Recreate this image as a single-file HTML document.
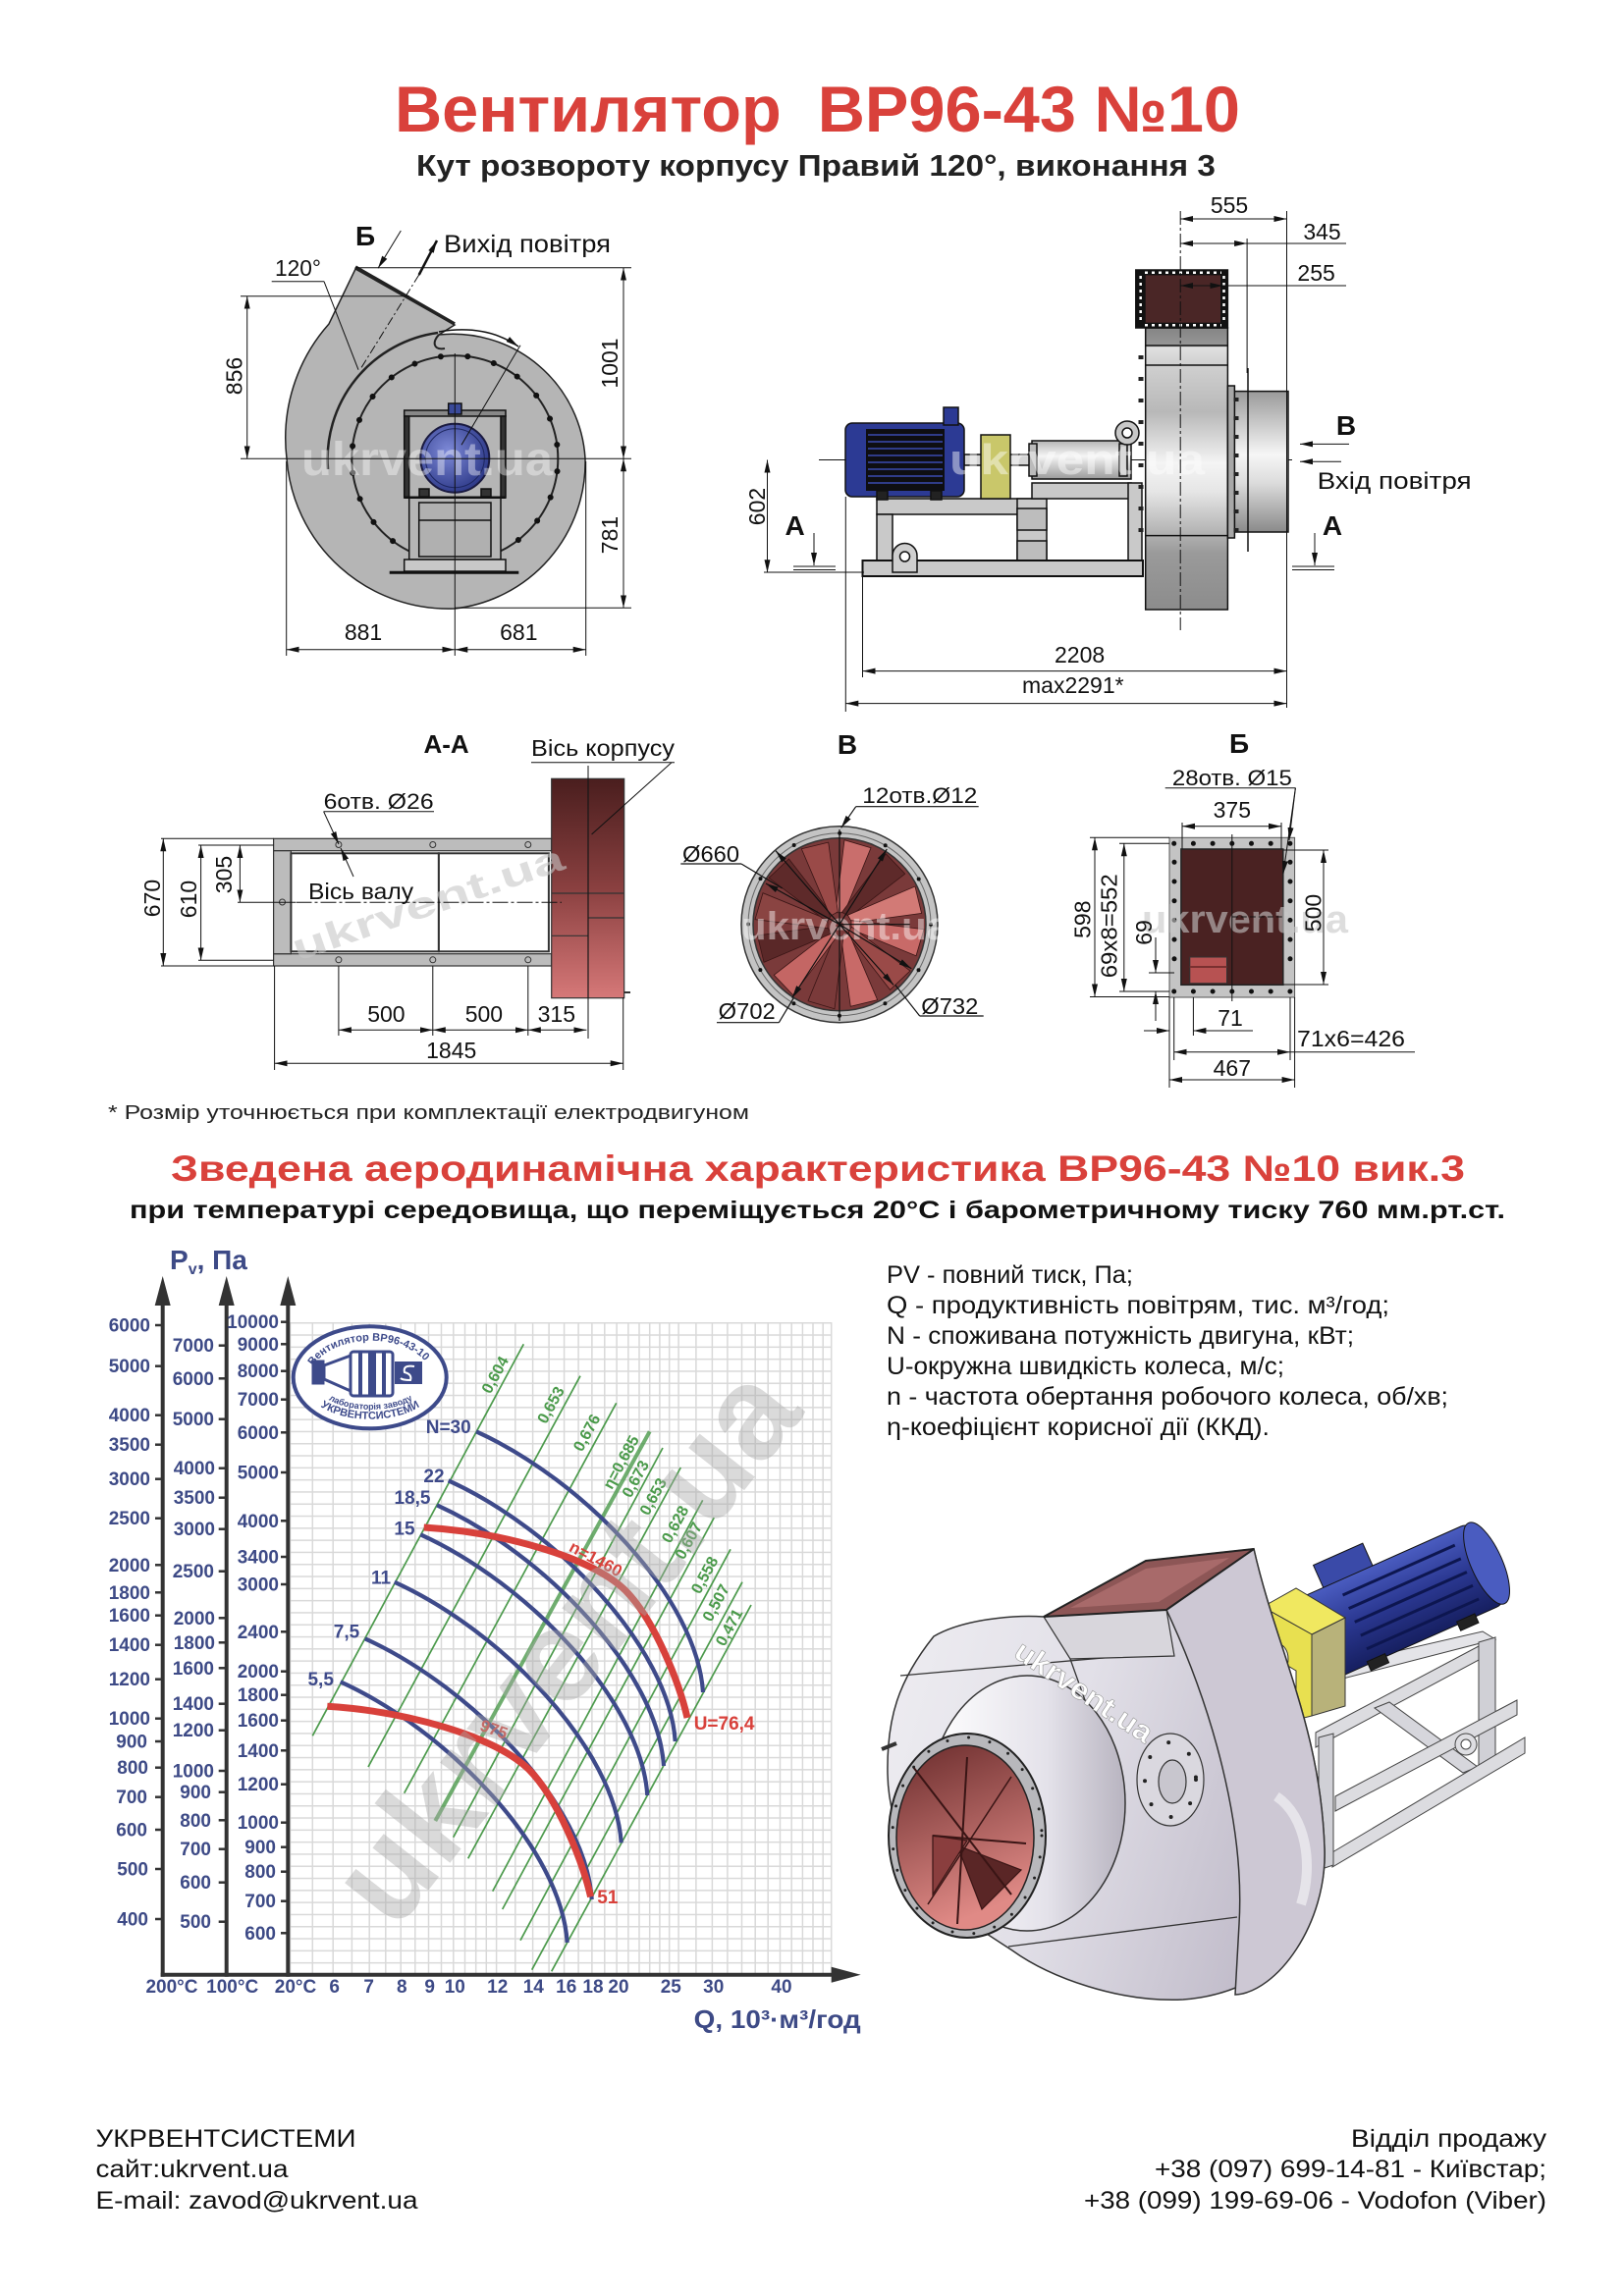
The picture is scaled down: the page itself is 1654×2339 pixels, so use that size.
<!DOCTYPE html>
<html><head><meta charset="utf-8">
<style>
html,body{margin:0;padding:0;background:#fff;}
svg{display:block;}
text{font-family:"Liberation Sans",Arial,sans-serif;}
</style></head><body>
<svg xmlns="http://www.w3.org/2000/svg" xmlns:xlink="http://www.w3.org/1999/xlink" width="1654" height="2339" viewBox="0 0 1654 2339">
<defs>
<marker id="ar" markerUnits="userSpaceOnUse" markerWidth="14" markerHeight="8" refX="13" refY="4" orient="auto-start-reverse"><path d="M0,1 L13,4 L0,7 z" fill="#111"/></marker>
<radialGradient id="mg" cx="0.4" cy="0.4" r="0.7"><stop offset="0" stop-color="#7e8ad8"/><stop offset="1" stop-color="#24307f"/></radialGradient>
<linearGradient id="sideCase" x1="0" y1="0" x2="0" y2="1">
<stop offset="0" stop-color="#858585"/><stop offset="0.06" stop-color="#959595"/><stop offset="0.07" stop-color="#e0e0e0"/><stop offset="0.13" stop-color="#d0d0d0"/><stop offset="0.3" stop-color="#b8b8b8"/><stop offset="0.48" stop-color="#f4f4f4"/><stop offset="0.58" stop-color="#e6e6e6"/><stop offset="0.8" stop-color="#9a9a9a"/><stop offset="1" stop-color="#8c8c8c"/></linearGradient>
<linearGradient id="inletG" x1="0" y1="0" x2="0" y2="1"><stop offset="0" stop-color="#9a9a9a"/><stop offset="0.45" stop-color="#f6f6f6"/><stop offset="0.65" stop-color="#dcdcdc"/><stop offset="1" stop-color="#8a8a8a"/></linearGradient>
<linearGradient id="cylH" x1="0" y1="0" x2="0" y2="1"><stop offset="0" stop-color="#b5b5b5"/><stop offset="0.4" stop-color="#f5f5f5"/><stop offset="1" stop-color="#9a9a9a"/></linearGradient>
<linearGradient id="brownG" x1="0" y1="0" x2="0" y2="1"><stop offset="0" stop-color="#4a1e1e"/><stop offset="0.5" stop-color="#8a4040"/><stop offset="1" stop-color="#d67878"/></linearGradient>
<linearGradient id="case3d" x1="0" y1="0" x2="1" y2="0.3"><stop offset="0" stop-color="#efeef2"/><stop offset="0.5" stop-color="#e2e0e8"/><stop offset="1" stop-color="#c2bdcb"/></linearGradient>
<linearGradient id="cyl3d" x1="0" y1="0" x2="1" y2="0"><stop offset="0" stop-color="#ffffff"/><stop offset="0.6" stop-color="#e4e2ea"/><stop offset="1" stop-color="#b8b4c0"/></linearGradient>
<linearGradient id="inner3d" x1="0" y1="0" x2="0.3" y2="1"><stop offset="0" stop-color="#6a2c2c"/><stop offset="1" stop-color="#e08a86"/></linearGradient>
<linearGradient id="motor3d" x1="0" y1="0" x2="0" y2="1"><stop offset="0" stop-color="#4a5cc0"/><stop offset="0.5" stop-color="#2a3790"/><stop offset="1" stop-color="#161f60"/></linearGradient>
<pattern id="hg" x="0" y="1347" width="20" height="12.3" patternUnits="userSpaceOnUse"><rect x="0" y="0" width="20" height="1.5" fill="#d9d9d9"/></pattern>
<path id="bl" d="M-4,-12 L5,-12 L32,-78 L5,-86 Z"/>
<path id="bc" d="M0,0 C110,50 225,170 231,265.7"/>
<path id="rc" d="M0,0 C80,5 170,30 205,64 C235,94 260.3,159 268.3,194"/>
</defs>

<!-- TITLE -->
<text x="402" y="134" font-size="66" font-weight="bold" fill="#d9413b" textLength="861" lengthAdjust="spacingAndGlyphs" style="white-space:pre">Вентилятор  ВР96-43 №10</text>
<text x="424" y="179" font-size="31" font-weight="bold" fill="#222" textLength="814" lengthAdjust="spacingAndGlyphs">Кут розвороту корпусу Правий 120°, виконання 3</text>

<!-- FRONT VIEW -->
<g stroke="#222" stroke-width="1.5">
<path d="M447,341 A135 135 0 0 1 596,467 A150 150 0 0 1 463,620 A165 165 0 0 1 292,467 A175 175 0 0 1 335,330 L362,274 L463,331 Z" fill="#b5b5b5"/>
<line x1="362" y1="272" x2="463" y2="330" stroke-width="3.5"/>
<path d="M334,478 A130 130 0 0 1 446,339" fill="none" stroke-width="2.5"/>
<path d="M447,341 C440,348 441,357 453,355" fill="none" stroke-width="2"/>
<circle cx="463.3" cy="467.3" r="105" fill="none" stroke-width="2"/>
</g>
<circle cx="463.3" cy="467.3" r="105" fill="none" stroke="#111" stroke-width="6" stroke-dasharray="0 27.49" stroke-linecap="round" transform="rotate(7 463.3 467.3)"/>
<g stroke="#111" stroke-width="1.5">
<rect x="416.7" y="506.7" width="93.3" height="63.3" fill="#b5b5b5"/>
<rect x="426.7" y="512" width="73.3" height="55" fill="#b0b0b0"/>
<line x1="426.7" y1="530" x2="500" y2="530"/>
<rect x="411.7" y="418" width="103.3" height="6" fill="#888"/>
<rect x="411.7" y="424" width="5" height="83" fill="#333"/>
<rect x="510" y="424" width="5" height="83" fill="#333"/>
<line x1="411.7" y1="506.7" x2="515" y2="506.7" stroke-width="2.5"/>
<rect x="411.7" y="570" width="103.3" height="12" fill="#c8c8c8"/>
<line x1="396.7" y1="583.3" x2="528.3" y2="583.3" stroke-width="3"/>
<rect x="456.7" y="411" width="13.3" height="11" fill="#3a4a9a"/>
<rect x="427" y="498" width="10" height="8" fill="#333"/>
<rect x="490" y="498" width="10" height="8" fill="#333"/>
<circle cx="463.3" cy="466.7" r="35" fill="url(#mg)" stroke="#1a1a40" stroke-width="2"/>
<circle cx="463.3" cy="466.7" r="30" fill="none" stroke="#1d2660" stroke-width="1"/>
</g>
<text x="435" y="484" font-size="48" font-weight="bold" fill="#fff" opacity="0.4" text-anchor="middle" textLength="256" lengthAdjust="spacingAndGlyphs">ukrvent.ua</text>
<g stroke="#111" stroke-width="1" fill="none">
<line x1="463.3" y1="360" x2="463.3" y2="668"/>
<line x1="245" y1="467.3" x2="643" y2="467.3"/>
<line x1="245" y1="301.7" x2="417" y2="301.7"/>
<line x1="361.7" y1="272.7" x2="643" y2="272.7"/>
<line x1="463.3" y1="619.3" x2="643" y2="619.3"/>
<line x1="291.7" y1="470" x2="291.7" y2="668"/>
<line x1="596.7" y1="470" x2="596.7" y2="668"/>
<line x1="251.7" y1="301.7" x2="251.7" y2="467.3" marker-start="url(#ar)" marker-end="url(#ar)"/>
<line x1="635" y1="272.7" x2="635" y2="467.3" marker-start="url(#ar)" marker-end="url(#ar)"/>
<line x1="635" y1="467.3" x2="635" y2="619.3" marker-start="url(#ar)" marker-end="url(#ar)"/>
<line x1="291.7" y1="661.7" x2="463.3" y2="661.7" marker-start="url(#ar)" marker-end="url(#ar)"/>
<line x1="463.3" y1="661.7" x2="596.7" y2="661.7" marker-start="url(#ar)" marker-end="url(#ar)"/>
<line x1="276.7" y1="286.7" x2="330" y2="286.7"/>
<line x1="330" y1="286.7" x2="365" y2="376.7"/>
<line x1="426.7" y1="280" x2="366.7" y2="376.7" stroke-dasharray="9 3 2 3"/>
<line x1="426.7" y1="280" x2="445" y2="245" stroke-width="2.5" marker-end="url(#ar)"/>
<line x1="408.3" y1="235" x2="385" y2="273.3" marker-end="url(#ar)"/>
<path d="M447,338 Q495,330 528,353" stroke-width="1.5" marker-end="url(#ar)"/>
<line x1="530" y1="351.7" x2="470" y2="453.3"/>
</g>
<g font-size="23" fill="#111">
<text x="370" y="652" text-anchor="middle">881</text>
<text x="528.3" y="652" text-anchor="middle">681</text>
<text x="280" y="281" textLength="47" lengthAdjust="spacingAndGlyphs">120°</text>
<text transform="translate(238.5,383) rotate(-90)" text-anchor="middle" dominant-baseline="central">856</text>
<text transform="translate(621,370) rotate(-90)" text-anchor="middle" dominant-baseline="central">1001</text>
<text transform="translate(621,545) rotate(-90)" text-anchor="middle" dominant-baseline="central">781</text>
<text x="452" y="257" font-size="25" textLength="170" lengthAdjust="spacingAndGlyphs">Вихід повітря</text>
<text x="372" y="250" font-size="28" font-weight="bold" text-anchor="middle">Б</text>
</g>

<!-- SIDE VIEW -->
<line x1="834" y1="468.5" x2="1316" y2="468.5" stroke="#111" stroke-width="1"/>
<g stroke="#111" stroke-width="1.5">
<rect x="893" y="508" width="163" height="16" fill="#c9c9c9"/>
<rect x="893" y="524" width="16" height="47" fill="#c9c9c9"/>
<rect x="1036" y="508" width="30" height="63" fill="#c9c9c9"/>
<rect x="1036" y="518" width="30" height="22" fill="#bdbdbd"/>
<rect x="1036" y="551" width="30" height="20" fill="#bdbdbd"/>
<rect x="1051" y="492" width="101" height="16" fill="#c9c9c9"/>
<rect x="1149" y="492" width="14" height="79" fill="#c9c9c9"/>
<rect x="878.5" y="571" width="285.5" height="16" fill="#c9c9c9" stroke-width="2"/>
<path d="M909,583 L909,566 A12.5 12.5 0 0 1 934,566 L934,583 Z" fill="#cfcfcf"/>
<circle cx="921.5" cy="567" r="5" fill="#fff"/>
<rect x="982" y="463" width="70" height="11" fill="#d6d6d6"/>
<rect x="861" y="431" width="121" height="75" rx="7" fill="#2c3a94"/>
<rect x="882" y="437" width="80" height="63" fill="#0e0e12" stroke="none"/>
</g>
<g stroke="#3a4ab0" stroke-width="1.5">
<line x1="884" y1="443" x2="960" y2="443"/><line x1="884" y1="450" x2="960" y2="450"/><line x1="884" y1="457" x2="960" y2="457"/><line x1="884" y1="464" x2="960" y2="464"/><line x1="884" y1="471" x2="960" y2="471"/><line x1="884" y1="478" x2="960" y2="478"/><line x1="884" y1="485" x2="960" y2="485"/><line x1="884" y1="492" x2="960" y2="492"/>
</g>
<g stroke="#111" stroke-width="1.5">
<rect x="961" y="415" width="15" height="18" fill="#2c3a94"/>
<rect x="893" y="500" width="11" height="9" fill="#222"/>
<rect x="948" y="500" width="11" height="9" fill="#222"/>
<rect x="999" y="443" width="30" height="65" fill="#c9c76a"/>
<rect x="1051" y="449" width="101" height="39" fill="url(#cylH)"/>
<rect x="1048" y="452" width="8" height="33" fill="#bbb"/>
<rect x="1140" y="452" width="8" height="33" fill="#bbb"/>
<circle cx="1148" cy="441" r="12" fill="#c8c8c8"/>
<circle cx="1148" cy="441" r="5" fill="#fff"/>
<rect x="1166.7" y="334" width="83.7" height="287" fill="url(#sideCase)"/>
<line x1="1166.7" y1="352" x2="1250.4" y2="352"/>
<line x1="1166.7" y1="372" x2="1250.4" y2="372"/>
<line x1="1166.7" y1="545.6" x2="1250.4" y2="545.6"/>
<rect x="1156.8" y="275" width="93.6" height="59" fill="#111"/>
<rect x="1166.7" y="280.4" width="76.3" height="48.3" fill="#4a2626" stroke="none"/>
<rect x="1250.4" y="398.6" width="61.6" height="143.4" fill="url(#inletG)"/>
<rect x="1250.4" y="393" width="7" height="155" fill="#a8a8a8"/>
</g>
<g stroke="#fff" stroke-width="2.5" stroke-dasharray="3 4">
<line x1="1161.7" y1="281" x2="1161.7" y2="330"/><line x1="1246.5" y1="281" x2="1246.5" y2="330"/>
<line x1="1166" y1="277.7" x2="1244" y2="277.7"/><line x1="1166" y1="331.3" x2="1244" y2="331.3"/>
</g>
<line x1="1162" y1="362" x2="1162" y2="560" stroke="#222" stroke-width="5" stroke-dasharray="4 18"/>
<line x1="1259" y1="405" x2="1259" y2="545" stroke="#222" stroke-width="5" stroke-dasharray="4 15"/>
<line x1="1271" y1="375" x2="1271" y2="562" stroke="#111" stroke-width="1.5"/>
<text x="1097" y="483" font-size="44" font-weight="bold" fill="#fff" opacity="0.45" text-anchor="middle" textLength="260" lengthAdjust="spacingAndGlyphs">ukrvent.ua</text>
<g stroke="#111" stroke-width="1" fill="none">
<line x1="1202.2" y1="215" x2="1202.2" y2="642" stroke-dasharray="14 3 3 3"/>
<line x1="1310.5" y1="215" x2="1310.5" y2="721"/>
<line x1="1270.1" y1="243" x2="1270.1" y2="380"/>
<line x1="1202.2" y1="223" x2="1310.5" y2="223" marker-start="url(#ar)" marker-end="url(#ar)"/>
<line x1="1202.2" y1="248" x2="1270.1" y2="248" marker-start="url(#ar)" marker-end="url(#ar)"/>
<line x1="1270.1" y1="248" x2="1371" y2="248"/>
<line x1="1202.2" y1="291" x2="1245.5" y2="291" marker-start="url(#ar)" marker-end="url(#ar)"/>
<line x1="1245.5" y1="291" x2="1371" y2="291"/>
<line x1="878.5" y1="587" x2="878.5" y2="690"/>
<line x1="861.3" y1="506" x2="861.3" y2="725"/>
<line x1="878.5" y1="683.6" x2="1310.5" y2="683.6" marker-start="url(#ar)" marker-end="url(#ar)"/>
<line x1="861.3" y1="716.6" x2="1310.5" y2="716.6" marker-start="url(#ar)" marker-end="url(#ar)"/>
<line x1="778" y1="583" x2="880" y2="583"/>
<line x1="781.5" y1="468.5" x2="781.5" y2="583.2" marker-start="url(#ar)" marker-end="url(#ar)"/>
<line x1="829" y1="543" x2="829" y2="576" marker-end="url(#ar)"/>
<line x1="808" y1="577" x2="851" y2="577"/><line x1="808" y1="580.5" x2="851" y2="580.5"/>
<line x1="1339" y1="543" x2="1339" y2="576" marker-end="url(#ar)"/>
<line x1="1316" y1="577" x2="1359" y2="577"/><line x1="1316" y1="580.5" x2="1359" y2="580.5"/>
<line x1="1374" y1="452.4" x2="1324" y2="452.4" marker-end="url(#ar)"/>
<line x1="1366" y1="470.3" x2="1324" y2="470.3" marker-end="url(#ar)"/>
</g>
<g font-size="23" fill="#111">
<text x="1252" y="217" text-anchor="middle">555</text>
<text x="1346.5" y="244" text-anchor="middle">345</text>
<text x="1340.6" y="286" text-anchor="middle">255</text>
<text x="1099.6" y="675" text-anchor="middle">2208</text>
<text x="1092.8" y="706" text-anchor="middle">max2291*</text>
<text transform="translate(771,516) rotate(-90)" text-anchor="middle" dominant-baseline="central">602</text>
<text x="1341.6" y="498" font-size="24" textLength="157" lengthAdjust="spacingAndGlyphs">Вхід повітря</text>
<text x="1371" y="443" font-size="28" font-weight="bold" text-anchor="middle">B</text>
<text x="809.6" y="545" font-size="28" font-weight="bold" text-anchor="middle">A</text>
<text x="1357" y="545" font-size="28" font-weight="bold" text-anchor="middle">A</text>
</g>

<!-- A-A SECTION -->
<g stroke="#333" stroke-width="1.2">
<rect x="278.6" y="854.3" width="283.1" height="12.4" fill="#bcbcbc"/>
<rect x="278.6" y="971.7" width="283.1" height="12.3" fill="#bcbcbc"/>
<rect x="278.6" y="866.7" width="17.8" height="105" fill="#bcbcbc"/>
<rect x="296.4" y="869.3" width="150.5" height="100" fill="#fff" stroke="#333" stroke-width="2"/>
<rect x="446.9" y="869.3" width="112" height="100" fill="#fff" stroke="#333" stroke-width="2"/>
<rect x="561.7" y="793.3" width="74" height="223.4" fill="url(#brownG)"/>
<line x1="599" y1="793.3" x2="599" y2="1016.7"/>
<line x1="561.7" y1="910" x2="635.7" y2="910"/>
<line x1="561.7" y1="953.3" x2="599" y2="953.3"/>
<line x1="599" y1="935" x2="635.7" y2="935"/>
<line x1="635.7" y1="1011" x2="642" y2="1011" stroke-width="2"/>
</g>
<g fill="none" stroke="#333" stroke-width="1">
<circle cx="344.9" cy="860.5" r="3"/><circle cx="440.8" cy="860.5" r="3"/><circle cx="537.8" cy="860.5" r="3"/>
<circle cx="344.9" cy="977.8" r="3"/><circle cx="440.8" cy="977.8" r="3"/><circle cx="537.8" cy="977.8" r="3"/>
<circle cx="287.5" cy="919" r="3"/>
</g>
<text transform="translate(440,932) rotate(-19)" font-size="38" font-weight="bold" fill="#c8c8c8" opacity="0.6" text-anchor="middle" textLength="290" lengthAdjust="spacingAndGlyphs">ukrvent.ua</text>
<g stroke="#111" stroke-width="1" fill="none">
<line x1="301.5" y1="919.3" x2="572" y2="919.3" stroke-dasharray="16 3 3 3"/>
<line x1="541" y1="776.7" x2="687" y2="776.7"/>
<line x1="684" y1="776.7" x2="602.6" y2="850"/>
<line x1="599" y1="780" x2="599" y2="1058"/>
<line x1="329.6" y1="826.7" x2="442" y2="826.7"/>
<line x1="329.6" y1="826.7" x2="345" y2="860" marker-end="url(#ar)"/>
<line x1="360" y1="893" x2="347" y2="864" marker-end="url(#ar)"/>
<line x1="164" y1="854.3" x2="278.6" y2="854.3"/>
<line x1="202" y1="861" x2="278.6" y2="861"/>
<line x1="202" y1="978.3" x2="278.6" y2="978.3"/>
<line x1="164" y1="984" x2="278.6" y2="984"/>
<line x1="242" y1="919.3" x2="301" y2="919.3"/>
<line x1="166.3" y1="854.3" x2="166.3" y2="984" marker-start="url(#ar)" marker-end="url(#ar)"/>
<line x1="204.6" y1="861" x2="204.6" y2="978.3" marker-start="url(#ar)" marker-end="url(#ar)"/>
<line x1="244.4" y1="861" x2="244.4" y2="919.3" marker-start="url(#ar)" marker-end="url(#ar)"/>
<line x1="344.9" y1="984" x2="344.9" y2="1055"/>
<line x1="440.8" y1="984" x2="440.8" y2="1055"/>
<line x1="537.8" y1="984" x2="537.8" y2="1055"/>
<line x1="279.6" y1="984" x2="279.6" y2="1090"/>
<line x1="634.7" y1="1016" x2="634.7" y2="1090"/>
<line x1="344.9" y1="1049.3" x2="440.8" y2="1049.3" marker-start="url(#ar)" marker-end="url(#ar)"/>
<line x1="440.8" y1="1049.3" x2="537.8" y2="1049.3" marker-start="url(#ar)" marker-end="url(#ar)"/>
<line x1="537.8" y1="1049.3" x2="597.4" y2="1049.3" marker-start="url(#ar)" marker-end="url(#ar)"/>
<line x1="279.6" y1="1083.3" x2="634.7" y2="1083.3" marker-start="url(#ar)" marker-end="url(#ar)"/>
</g>
<g font-size="23" fill="#111">
<text x="454.6" y="767" font-size="26" font-weight="bold" text-anchor="middle">A-A</text>
<text x="541" y="770" textLength="146" lengthAdjust="spacingAndGlyphs">Вісь корпусу</text>
<text x="329.6" y="824" font-size="22" textLength="112" lengthAdjust="spacingAndGlyphs">6отв. Ø26</text>
<text x="314" y="916" textLength="107" lengthAdjust="spacingAndGlyphs">Вісь валу</text>
<text transform="translate(155,915) rotate(-90)" text-anchor="middle" dominant-baseline="central">670</text>
<text transform="translate(192,916) rotate(-90)" text-anchor="middle" dominant-baseline="central">610</text>
<text transform="translate(228,891) rotate(-90)" text-anchor="middle" dominant-baseline="central">305</text>
<text x="393.4" y="1041" text-anchor="middle">500</text>
<text x="492.9" y="1041" text-anchor="middle">500</text>
<text x="566.8" y="1041" text-anchor="middle">315</text>
<text x="459.7" y="1078" text-anchor="middle">1845</text>
</g>

<!-- B VIEW -->
<circle cx="855" cy="941.7" r="100" fill="#c4c4c4" stroke="#333" stroke-width="1.5"/>
<circle cx="855" cy="941.7" r="93" fill="none" stroke="#666" stroke-width="1"/>
<circle cx="855" cy="941.7" r="88" fill="#7a3a3a" stroke="#333" stroke-width="1.5"/>
<g transform="translate(855,941.7)" stroke="#3a1515" stroke-width="0.8">
<use xlink:href="#bl" fill="#c96e6c" transform="rotate(0)"/>
<use xlink:href="#bl" fill="#5e2a2a" transform="rotate(30)"/>
<use xlink:href="#bl" fill="#d27a76" transform="rotate(60)"/>
<use xlink:href="#bl" fill="#c86a68" transform="rotate(90)"/>
<use xlink:href="#bl" fill="#9a4a48" transform="rotate(120)"/>
<use xlink:href="#bl" fill="#c86a68" transform="rotate(150)"/>
<use xlink:href="#bl" fill="#7a3a3a" transform="rotate(180)"/>
<use xlink:href="#bl" fill="#c46664" transform="rotate(210)"/>
<use xlink:href="#bl" fill="#5a2828" transform="rotate(240)"/>
<use xlink:href="#bl" fill="#8a4442" transform="rotate(270)"/>
<use xlink:href="#bl" fill="#5e2a2a" transform="rotate(300)"/>
<use xlink:href="#bl" fill="#9a4a48" transform="rotate(330)"/>
</g>
<circle cx="855" cy="941.7" r="93" fill="none" stroke="#111" stroke-width="4" stroke-dasharray="0 48.7" stroke-linecap="round"/>
<text x="861" y="957" font-size="40" font-weight="bold" fill="#fff" opacity="0.45" text-anchor="middle" textLength="212" lengthAdjust="spacingAndGlyphs">ukrvent.ua</text>
<g stroke="#111" stroke-width="1.2" fill="none">
<line x1="855" y1="941.7" x2="790" y2="866.7" marker-end="url(#ar)"/>
<line x1="855" y1="941.7" x2="903.3" y2="865" marker-end="url(#ar)"/>
<line x1="855" y1="941.7" x2="780" y2="900" marker-end="url(#ar)"/>
<line x1="855" y1="941.7" x2="928.3" y2="986.7" marker-end="url(#ar)"/>
<line x1="855" y1="941.7" x2="910" y2="1003.3" marker-end="url(#ar)"/>
<line x1="855" y1="941.7" x2="806.7" y2="1016.7" marker-end="url(#ar)"/>
<line x1="855" y1="941.7" x2="926.7" y2="941.7"/>
<line x1="855" y1="845" x2="855" y2="1040"/>
<line x1="871.7" y1="821.7" x2="996.7" y2="821.7"/>
<line x1="871.7" y1="821.7" x2="856.7" y2="843.3" marker-end="url(#ar)"/>
<line x1="693.3" y1="880" x2="755" y2="880"/>
<line x1="755" y1="880" x2="796.7" y2="905"/>
<line x1="730" y1="1041.7" x2="793.3" y2="1041.7"/>
<line x1="793.3" y1="1041.7" x2="808.3" y2="1016.7"/>
<line x1="936.7" y1="1035" x2="1001.7" y2="1035"/>
<line x1="936.7" y1="1035" x2="911.7" y2="1003.3"/>
</g>
<g font-size="23" fill="#111">
<text x="863" y="768" font-size="28" font-weight="bold" text-anchor="middle">B</text>
<text x="878.3" y="818" font-size="22" textLength="117" lengthAdjust="spacingAndGlyphs">12отв.Ø12</text>
<text x="695" y="878" textLength="58" lengthAdjust="spacingAndGlyphs">Ø660</text>
<text x="731.7" y="1038" textLength="58" lengthAdjust="spacingAndGlyphs">Ø702</text>
<text x="938.3" y="1033" textLength="58" lengthAdjust="spacingAndGlyphs">Ø732</text>
</g>

<!-- Б VIEW -->
<rect x="1191" y="853.3" width="127.6" height="162.7" fill="#c4c4c4" stroke="#555" stroke-width="1"/>
<rect x="1202.9" y="865" width="103.9" height="138.3" fill="#4a2222" stroke="#222" stroke-width="1.5"/>
<rect x="1211.8" y="975" width="37.7" height="26.7" fill="#b75252" stroke="#333" stroke-width="1"/>
<line x1="1211.8" y1="985" x2="1249.5" y2="985" stroke="#7a3030" stroke-width="2"/>
<g stroke="#111" stroke-width="5" stroke-dasharray="0 19.7" stroke-linecap="round" fill="none">
<line x1="1195.7" y1="859.3" x2="1316" y2="859.3"/>
<line x1="1195.7" y1="1010" x2="1316" y2="1010"/>
<line x1="1196" y1="878.3" x2="1196" y2="995"/>
<line x1="1314" y1="878.3" x2="1314" y2="995"/>
</g>
<text x="1268" y="950" font-size="40" font-weight="bold" fill="#c8c8c8" opacity="0.6" text-anchor="middle" textLength="210" lengthAdjust="spacingAndGlyphs">ukrvent.ua</text>
<g stroke="#111" stroke-width="1" fill="none">
<line x1="1254.8" y1="850" x2="1254.8" y2="1020"/>
<line x1="1254.8" y1="934" x2="1306" y2="934" stroke-dasharray="6 3"/>
<line x1="1186.7" y1="802.7" x2="1319.4" y2="802.7"/>
<line x1="1319.4" y1="802.7" x2="1313" y2="856" marker-end="url(#ar)"/>
<line x1="1319.4" y1="802.7" x2="1307" y2="890" marker-end="url(#ar)"/>
<line x1="1204" y1="838" x2="1204" y2="865"/>
<line x1="1305" y1="838" x2="1305" y2="865"/>
<line x1="1204" y1="841.7" x2="1305" y2="841.7" marker-start="url(#ar)" marker-end="url(#ar)"/>
<line x1="1110" y1="853.3" x2="1191" y2="853.3"/>
<line x1="1140" y1="859.3" x2="1191" y2="859.3"/>
<line x1="1140" y1="1010" x2="1191" y2="1010"/>
<line x1="1110" y1="1015.5" x2="1191" y2="1015.5"/>
<line x1="1170" y1="991" x2="1196" y2="991"/>
<line x1="1115" y1="853.3" x2="1115" y2="1015.5" marker-start="url(#ar)" marker-end="url(#ar)"/>
<line x1="1144.8" y1="859.3" x2="1144.8" y2="1010" marker-start="url(#ar)" marker-end="url(#ar)"/>
<line x1="1177" y1="955" x2="1177" y2="991" marker-end="url(#ar)"/>
<line x1="1177" y1="1040" x2="1177" y2="1010" marker-end="url(#ar)"/>
<line x1="1307" y1="866" x2="1353" y2="866"/>
<line x1="1307" y1="1003" x2="1353" y2="1003"/>
<line x1="1348" y1="866" x2="1348" y2="1003" marker-start="url(#ar)" marker-end="url(#ar)"/>
<line x1="1191" y1="1016" x2="1191" y2="1108"/>
<line x1="1195.7" y1="1016" x2="1195.7" y2="1080"/>
<line x1="1215.4" y1="1016" x2="1215.4" y2="1055"/>
<line x1="1314" y1="1016" x2="1314" y2="1080"/>
<line x1="1318.6" y1="1016" x2="1318.6" y2="1108"/>
<line x1="1165" y1="1050" x2="1191" y2="1050" marker-end="url(#ar)"/>
<line x1="1276" y1="1050" x2="1215.4" y2="1050" marker-end="url(#ar)"/>
<line x1="1195.7" y1="1071.7" x2="1314" y2="1071.7" marker-start="url(#ar)" marker-end="url(#ar)"/>
<line x1="1314" y1="1071.7" x2="1441" y2="1071.7"/>
<line x1="1191" y1="1100" x2="1318.6" y2="1100" marker-start="url(#ar)" marker-end="url(#ar)"/>
</g>
<g font-size="23" fill="#111">
<text x="1262" y="767" font-size="28" font-weight="bold" text-anchor="middle">Б</text>
<text x="1193.9" y="800" font-size="22" textLength="122" lengthAdjust="spacingAndGlyphs">28отв. Ø15</text>
<text x="1254.8" y="833" text-anchor="middle">375</text>
<text transform="translate(1102.5,936.7) rotate(-90)" text-anchor="middle" dominant-baseline="central">598</text>
<text transform="translate(1129.4,943.3) rotate(-90)" text-anchor="middle" dominant-baseline="central" textLength="106" lengthAdjust="spacingAndGlyphs">69x8=552</text>
<text transform="translate(1165,950) rotate(-90)" text-anchor="middle" dominant-baseline="central">69</text>
<text transform="translate(1337.3,930) rotate(-90)" text-anchor="middle" dominant-baseline="central">500</text>
<text x="1253" y="1045" text-anchor="middle">71</text>
<text x="1321" y="1066" textLength="110" lengthAdjust="spacingAndGlyphs">71x6=426</text>
<text x="1254.8" y="1096" text-anchor="middle">467</text>
</g>

<!-- FOOTNOTE & SECTION HEADINGS -->
<text x="110" y="1140" font-size="20" fill="#222" textLength="653" lengthAdjust="spacingAndGlyphs">* Розмір уточнюється при комплектації електродвигуном</text>
<text x="174" y="1203" font-size="37" font-weight="bold" fill="#d9413b" textLength="1318" lengthAdjust="spacingAndGlyphs">Зведена аеродинамічна характеристика ВР96-43 №10 вик.3</text>
<text x="132" y="1241" font-size="25" font-weight="bold" fill="#111" textLength="1401" lengthAdjust="spacingAndGlyphs">при температурі середовища, що переміщується 20°С і барометричному тиску 760 мм.рт.ст.</text>

<!-- CHART GRID -->
<rect x="293" y="1347" width="553.7" height="664" fill="url(#hg)"/>
<g stroke="#d9d9d9" stroke-width="1.5">
<line x1="295.5" y1="1347" x2="295.5" y2="2011"/><line x1="318.3" y1="1347" x2="318.3" y2="2011"/><line x1="339.2" y1="1347" x2="339.2" y2="2011"/><line x1="358.4" y1="1347" x2="358.4" y2="2011"/><line x1="376.2" y1="1347" x2="376.2" y2="2011"/><line x1="392.8" y1="1347" x2="392.8" y2="2011"/><line x1="408.2" y1="1347" x2="408.2" y2="2011"/><line x1="422.8" y1="1347" x2="422.8" y2="2011"/><line x1="436.5" y1="1347" x2="436.5" y2="2011"/><line x1="449.5" y1="1347" x2="449.5" y2="2011"/><line x1="461.8" y1="1347" x2="461.8" y2="2011"/><line x1="473.5" y1="1347" x2="473.5" y2="2011"/><line x1="484.7" y1="1347" x2="484.7" y2="2011"/><line x1="495.3" y1="1347" x2="495.3" y2="2011"/><line x1="505.6" y1="1347" x2="505.6" y2="2011"/><line x1="524.8" y1="1347" x2="524.8" y2="2011"/><line x1="542.6" y1="1347" x2="542.6" y2="2011"/><line x1="559.1" y1="1347" x2="559.1" y2="2011"/><line x1="574.6" y1="1347" x2="574.6" y2="2011"/><line x1="589.1" y1="1347" x2="589.1" y2="2011"/><line x1="602.9" y1="1347" x2="602.9" y2="2011"/><line x1="615.8" y1="1347" x2="615.8" y2="2011"/><line x1="628.1" y1="1347" x2="628.1" y2="2011"/><line x1="639.9" y1="1347" x2="639.9" y2="2011"/><line x1="651" y1="1347" x2="651" y2="2011"/><line x1="661.7" y1="1347" x2="661.7" y2="2011"/><line x1="671.9" y1="1347" x2="671.9" y2="2011"/><line x1="681.7" y1="1347" x2="681.7" y2="2011"/><line x1="691.1" y1="1347" x2="691.1" y2="2011"/><line x1="708.9" y1="1347" x2="708.9" y2="2011"/><line x1="725.4" y1="1347" x2="725.4" y2="2011"/><line x1="740.9" y1="1347" x2="740.9" y2="2011"/><line x1="755.5" y1="1347" x2="755.5" y2="2011"/><line x1="769.2" y1="1347" x2="769.2" y2="2011"/><line x1="782.2" y1="1347" x2="782.2" y2="2011"/><line x1="794.5" y1="1347" x2="794.5" y2="2011"/><line x1="806.2" y1="1347" x2="806.2" y2="2011"/><line x1="817.4" y1="1347" x2="817.4" y2="2011"/><line x1="828" y1="1347" x2="828" y2="2011"/><line x1="838.2" y1="1347" x2="838.2" y2="2011"/><line x1="846.7" y1="1347" x2="846.7" y2="2011"/>
</g>

<!-- GREEN EFFICIENCY LINES -->
<g stroke="#4c9a4c" stroke-width="1.7">
<line x1="533.3" y1="1369.3" x2="318.3" y2="1768.3"/>
<line x1="591" y1="1401.7" x2="375" y2="1800"/>
<line x1="627.7" y1="1429.3" x2="411.7" y2="1826.7"/>
<line x1="661.7" y1="1458.3" x2="443.3" y2="1855" stroke-width="4" opacity="0.8"/>
<line x1="675" y1="1475" x2="461.7" y2="1871.7"/>
<line x1="693.3" y1="1495" x2="476.7" y2="1893.3"/>
<line x1="715.7" y1="1528.3" x2="501.7" y2="1926.7"/>
<line x1="727.3" y1="1546" x2="511.7" y2="1945"/>
<line x1="744" y1="1578.3" x2="530" y2="1976.7"/>
<line x1="756" y1="1611.7" x2="541.7" y2="2006.7"/>
<line x1="765" y1="1635" x2="561.7" y2="2008.3"/>
</g>
<g font-size="16" font-weight="bold" fill="#4a9a4a" text-anchor="middle" dominant-baseline="central">
<text transform="translate(505,1401) rotate(-61.5)">0,604</text>
<text transform="translate(561.7,1431.7) rotate(-61.5)">0,653</text>
<text transform="translate(598.3,1460) rotate(-61.5)">0,676</text>
<text transform="translate(633.3,1490) rotate(-61.5)">η=0,685</text>
<text transform="translate(648,1507) rotate(-61.5)">0,673</text>
<text transform="translate(666,1525) rotate(-61.5)">0,653</text>
<text transform="translate(688.3,1553.3) rotate(-61.5)">0,628</text>
<text transform="translate(702,1570) rotate(-61.5)">0,607</text>
<text transform="translate(718.3,1605) rotate(-61.5)">0,558</text>
<text transform="translate(730,1633.3) rotate(-61.5)">0,507</text>
<text transform="translate(743.3,1658.3) rotate(-61.5)">0,471</text>
</g>

<!-- BLUE POWER CURVES -->
<g fill="none" stroke="#3e4a8a" stroke-width="4.2">
<use xlink:href="#bc" transform="translate(485,1458.3)"/>
<use xlink:href="#bc" transform="translate(456.7,1508.3)"/>
<use xlink:href="#bc" transform="translate(445,1533.3)"/>
<use xlink:href="#bc" transform="translate(428.3,1563.3)"/>
<use xlink:href="#bc" transform="translate(401.7,1611.7)"/>
<use xlink:href="#bc" transform="translate(371.7,1669.3)"/>
<use xlink:href="#bc" transform="translate(346.7,1713.3)"/>
</g>
<!-- RED SPEED CURVES -->
<g fill="none" stroke="#d8413b" stroke-width="7">
<use xlink:href="#rc" transform="translate(431.7,1556)"/>
<use xlink:href="#rc" transform="translate(333.3,1738.3)"/>
</g>
<g font-size="19" font-weight="bold" fill="#3e4a8a" text-anchor="middle">
<text x="456.7" y="1460">N=30</text>
<text x="442" y="1510">22</text>
<text x="420" y="1532">18,5</text>
<text x="412" y="1563.5">15</text>
<text x="388" y="1613.5">11</text>
<text x="353" y="1668.5">7,5</text>
<text x="326.7" y="1717">5,5</text>
</g>
<g font-size="17" font-weight="bold" fill="#d8413b">
<text transform="translate(606.7,1588.3) rotate(28)" text-anchor="middle" dominant-baseline="central">n=1460</text>
<text transform="translate(503,1762) rotate(20)" text-anchor="middle" dominant-baseline="central">975</text>
<text x="608.3" y="1939" font-size="19">51</text>
<text x="706.7" y="1762" font-size="19">U=76,4</text>
</g>

<!-- LOGO -->
<ellipse cx="376.7" cy="1403.3" rx="78" ry="52" fill="#fff" stroke="#3d4a8a" stroke-width="4"/>
<path id="lt" d="M314,1404 A64 42 0 0 1 440,1398" fill="none"/>
<path id="lb1" d="M325,1416 A54 26 0 0 0 430,1416" fill="none"/>
<path id="lb2" d="M312,1416 A66 36 0 0 0 442,1416" fill="none"/>
<text font-size="11" font-weight="bold" fill="#3d4a8a"><textPath xlink:href="#lt" startOffset="50%" text-anchor="middle">Вентилятор ВР96-43-10</textPath></text>
<text font-size="9" font-weight="bold" fill="#3d4a8a"><textPath xlink:href="#lb1" startOffset="50%" text-anchor="middle">лабораторія заводу</textPath></text>
<text font-size="11" font-weight="bold" fill="#3d4a8a"><textPath xlink:href="#lb2" startOffset="50%" text-anchor="middle">УКРВЕНТСИСТЕМИ</textPath></text>
<g fill="#3d4a8a" stroke="#3d4a8a">
<rect x="318" y="1386" width="12" height="24"/>
<path d="M330,1391 L357,1381 L357,1417 L330,1405 Z" fill="#fff" stroke-width="3"/>
<rect x="357" y="1377" width="43" height="45" rx="3" fill="#fff" stroke-width="3"/>
<rect x="365" y="1377" width="4" height="45" stroke="none"/>
<rect x="375" y="1377" width="8" height="45" stroke="none"/>
<rect x="389" y="1377" width="4" height="45" stroke="none"/>
<rect x="402" y="1387" width="28" height="23" stroke="none"/>
<path d="M422,1392 Q410,1390 412,1398 Q420,1400 418,1406 Q410,1406 408,1404" fill="none" stroke="#fff" stroke-width="2"/>
</g>

<!-- AXES -->
<g stroke="#333" stroke-width="4" fill="none">
<line x1="165.7" y1="1325" x2="165.7" y2="2013.7"/>
<line x1="230.7" y1="1325" x2="230.7" y2="2013.7"/>
<line x1="293.3" y1="1325" x2="293.3" y2="2013.7"/>
<line x1="163.7" y1="2011.7" x2="850" y2="2011.7"/>
</g>
<g fill="#333">
<path d="M165.7,1300 L157.7,1330 L173.7,1330 Z"/>
<path d="M230.7,1300 L222.7,1330 L238.7,1330 Z"/>
<path d="M293.3,1300 L285.3,1330 L301.3,1330 Z"/>
<path d="M876.7,2011.7 L846.7,2003.7 L846.7,2019.7 Z"/>
</g>
<g stroke="#333" stroke-width="2.5">
<line x1="158" y1="1350" x2="166" y2="1350"/><line x1="158" y1="1391.7" x2="166" y2="1391.7"/><line x1="158" y1="1441.7" x2="166" y2="1441.7"/><line x1="158" y1="1471.7" x2="166" y2="1471.7"/><line x1="158" y1="1506.7" x2="166" y2="1506.7"/><line x1="158" y1="1546.7" x2="166" y2="1546.7"/><line x1="158" y1="1594.3" x2="166" y2="1594.3"/><line x1="158" y1="1622.3" x2="166" y2="1622.3"/><line x1="158" y1="1645.7" x2="166" y2="1645.7"/><line x1="158" y1="1675.7" x2="166" y2="1675.7"/><line x1="158" y1="1710.7" x2="166" y2="1710.7"/><line x1="158" y1="1750.7" x2="166" y2="1750.7"/><line x1="158" y1="1774" x2="166" y2="1774"/><line x1="158" y1="1800.7" x2="166" y2="1800.7"/><line x1="158" y1="1830.7" x2="166" y2="1830.7"/><line x1="158" y1="1864" x2="166" y2="1864"/><line x1="158" y1="1904" x2="166" y2="1904"/><line x1="158" y1="1955" x2="166" y2="1955"/>
<line x1="222.7" y1="1370.7" x2="231" y2="1370.7"/><line x1="222.7" y1="1404.3" x2="231" y2="1404.3"/><line x1="222.7" y1="1445.7" x2="231" y2="1445.7"/><line x1="222.7" y1="1495.7" x2="231" y2="1495.7"/><line x1="222.7" y1="1525.7" x2="231" y2="1525.7"/><line x1="222.7" y1="1557.7" x2="231" y2="1557.7"/><line x1="222.7" y1="1600.7" x2="231" y2="1600.7"/><line x1="222.7" y1="1648.3" x2="231" y2="1648.3"/><line x1="222.7" y1="1673.3" x2="231" y2="1673.3"/><line x1="222.7" y1="1699.3" x2="231" y2="1699.3"/><line x1="222.7" y1="1735.7" x2="231" y2="1735.7"/><line x1="222.7" y1="1762.7" x2="231" y2="1762.7"/><line x1="222.7" y1="1804" x2="231" y2="1804"/><line x1="222.7" y1="1825.7" x2="231" y2="1825.7"/><line x1="222.7" y1="1854.3" x2="231" y2="1854.3"/><line x1="222.7" y1="1883.7" x2="231" y2="1883.7"/><line x1="222.7" y1="1917.7" x2="231" y2="1917.7"/><line x1="222.7" y1="1957.7" x2="231" y2="1957.7"/>
<line x1="286" y1="1346.7" x2="294" y2="1346.7"/><line x1="286" y1="1369.3" x2="294" y2="1369.3"/><line x1="286" y1="1396.7" x2="294" y2="1396.7"/><line x1="286" y1="1425.7" x2="294" y2="1425.7"/><line x1="286" y1="1459.3" x2="294" y2="1459.3"/><line x1="286" y1="1500" x2="294" y2="1500"/><line x1="286" y1="1549.3" x2="294" y2="1549.3"/><line x1="286" y1="1586" x2="294" y2="1586"/><line x1="286" y1="1614" x2="294" y2="1614"/><line x1="286" y1="1662.3" x2="294" y2="1662.3"/><line x1="286" y1="1702.7" x2="294" y2="1702.7"/><line x1="286" y1="1726.7" x2="294" y2="1726.7"/><line x1="286" y1="1752.7" x2="294" y2="1752.7"/><line x1="286" y1="1783.3" x2="294" y2="1783.3"/><line x1="286" y1="1817.7" x2="294" y2="1817.7"/><line x1="286" y1="1856.7" x2="294" y2="1856.7"/><line x1="286" y1="1881.7" x2="294" y2="1881.7"/><line x1="286" y1="1906.7" x2="294" y2="1906.7"/><line x1="286" y1="1936.7" x2="294" y2="1936.7"/><line x1="286" y1="1969.3" x2="294" y2="1969.3"/>
</g>
<g font-size="19" font-weight="bold" fill="#3d4a86" text-anchor="end">
<text x="153" y="1356.5">6000</text><text x="153" y="1398.2">5000</text><text x="153" y="1448.2">4000</text><text x="153" y="1478.2">3500</text><text x="153" y="1513.2">3000</text><text x="153" y="1553.2">2500</text><text x="153" y="1600.8">2000</text><text x="153" y="1628.8">1800</text><text x="153" y="1652.2">1600</text><text x="153" y="1682.2">1400</text><text x="153" y="1717.2">1200</text><text x="153" y="1757.2">1000</text><text x="150" y="1780.5">900</text><text x="151" y="1807.2">800</text><text x="150" y="1837.2">700</text><text x="150" y="1870.5">600</text><text x="151" y="1910.5">500</text><text x="151" y="1961.5">400</text>
<text x="218" y="1377.2">7000</text><text x="218" y="1410.8">6000</text><text x="218" y="1452.2">5000</text><text x="219" y="1502.2">4000</text><text x="219" y="1532.2">3500</text><text x="219" y="1564.2">3000</text><text x="218" y="1607.2">2500</text><text x="219" y="1654.8">2000</text><text x="219" y="1679.8">1800</text><text x="218" y="1705.8">1600</text><text x="218" y="1742.2">1400</text><text x="218" y="1769.2">1200</text><text x="218" y="1810.5">1000</text><text x="215" y="1832.2">900</text><text x="215" y="1860.8">800</text><text x="215" y="1890.2">700</text><text x="215" y="1924.2">600</text><text x="215" y="1964.2">500</text>
<text x="284" y="1353.2">10000</text><text x="284" y="1375.8">9000</text><text x="284" y="1403.2">8000</text><text x="284" y="1432.2">7000</text><text x="284" y="1465.8">6000</text><text x="284" y="1506.5">5000</text><text x="284" y="1555.8">4000</text><text x="284" y="1592.5">3400</text><text x="284" y="1620.5">3000</text><text x="284" y="1668.8">2400</text><text x="284" y="1709.2">2000</text><text x="284" y="1733.2">1800</text><text x="284" y="1759.2">1600</text><text x="284" y="1789.8">1400</text><text x="284" y="1824.2">1200</text><text x="284" y="1863.2">1000</text><text x="281" y="1888.2">900</text><text x="281" y="1913.2">800</text><text x="281" y="1943.2">700</text><text x="281" y="1975.8">600</text>
</g>
<g font-size="19" font-weight="bold" fill="#3d4a86" text-anchor="middle">
<text x="175" y="2030">200°C</text><text x="236.7" y="2030">100°C</text><text x="301" y="2030">20°C</text>
<text x="340.7" y="2030">6</text><text x="375.7" y="2030">7</text><text x="409.3" y="2030">8</text><text x="437.7" y="2030">9</text><text x="463.3" y="2030">10</text>
<text x="506.7" y="2030">12</text><text x="543.3" y="2030">14</text><text x="576.7" y="2030">16</text><text x="604" y="2030">18</text><text x="630" y="2030">20</text>
<text x="683.3" y="2030">25</text><text x="726.7" y="2030">30</text><text x="796" y="2030">40</text>
</g>
<text x="173" y="1293" font-size="28" font-weight="bold" fill="#3d4a86">P<tspan font-size="16" dy="5">v</tspan><tspan dy="-5">, Па</tspan></text>
<text x="706.7" y="2066" font-size="26" font-weight="bold" fill="#3d4a86" textLength="170" lengthAdjust="spacingAndGlyphs">Q, 10³·м³/год</text>

<!-- CHART WATERMARK -->
<text transform="translate(402,1969) rotate(-51.7)" font-size="135" font-weight="bold" fill="#a8a8a8" opacity="0.42" textLength="675" lengthAdjust="spacingAndGlyphs">ukrvent.ua</text>

<!-- LEGEND -->
<g font-size="25" fill="#111">
<text x="903" y="1307" textLength="251" lengthAdjust="spacingAndGlyphs">PV - повний тиск, Па;</text>
<text x="903" y="1338" textLength="512" lengthAdjust="spacingAndGlyphs">Q - продуктивність повітрям, тис. м³/год;</text>
<text x="903" y="1369" textLength="476" lengthAdjust="spacingAndGlyphs">N - споживана потужність двигуна, кВт;</text>
<text x="903" y="1400" textLength="405" lengthAdjust="spacingAndGlyphs">U-окружна швидкість колеса, м/с;</text>
<text x="903" y="1431" textLength="572" lengthAdjust="spacingAndGlyphs">n - частота обертання робочого колеса, об/хв;</text>
<text x="903" y="1462" textLength="390" lengthAdjust="spacingAndGlyphs">η-коефіцієнт корисної дії (ККД).</text>
</g>

<!-- 3D RENDER -->
<g stroke="#444" stroke-width="1">
<polygon points="1345,1700 1510,1662 1523,1670 1360,1712" fill="#e4e4e8"/>
<polygon points="1340,1765 1523,1668 1523,1682 1340,1780" fill="#dcdce0"/>
<polygon points="1506,1673 1523,1668 1523,1792 1506,1798" fill="#d0d0d6"/>
<polygon points="1400,1740 1415,1734 1505,1800 1490,1806" fill="#d6d6dc"/>
<polygon points="1360,1830 1545,1732 1545,1747 1360,1845" fill="#dcdce0"/>
<polygon points="1357,1887 1553,1770 1553,1786 1357,1902" fill="#dcdce0"/>
<polygon points="1343,1770 1358,1766 1358,1900 1343,1905" fill="#d0d0d6"/>
<circle cx="1493" cy="1777" r="11" fill="#dedee2"/>
<circle cx="1493" cy="1777" r="5" fill="#fff"/>
</g>
<g transform="translate(1430,1630) rotate(-24)" stroke="#111" stroke-width="1">
<rect x="-70" y="-70" width="55" height="28" fill="#3a4aa8"/>
<rect x="-105" y="-45" width="200" height="90" rx="12" fill="url(#motor3d)"/>
<g stroke="#0d1650" stroke-width="3"><line x1="-55" y1="-30" x2="70" y2="-30"/><line x1="-55" y1="-15" x2="70" y2="-15"/><line x1="-55" y1="0" x2="70" y2="0"/><line x1="-55" y1="15" x2="70" y2="15"/><line x1="-55" y1="30" x2="70" y2="30"/></g>
<ellipse cx="92" cy="0" rx="16" ry="45" fill="#4a5cc0"/>
<ellipse cx="-100" cy="0" rx="12" ry="48" fill="#2a3890"/>
<rect x="-60" y="42" width="20" height="10" fill="#222"/>
<rect x="40" y="42" width="20" height="10" fill="#222"/>
</g>
<g stroke="#333" stroke-width="1">
<polygon points="1336,1665 1370,1648 1370,1738 1336,1748" fill="#b8b27a"/>
<polygon points="1286,1637 1320,1618 1370,1648 1336,1665" fill="#f0e860"/>
<polygon points="1286,1637 1336,1665 1336,1748 1320,1752 1320,1702 1300,1690 1292,1662" fill="#e8e050"/>
<ellipse cx="1302" cy="1690" rx="10" ry="15" fill="#eee"/>
</g>
<path d="M1063,1647 L1167,1590 L1277,1578 C1300,1680 1345,1760 1349,1883 C1352,1960 1300,2030 1205,2037 C1140,2040 1070,2015 1031,1987 L985,1957 C940,1930 905,1870 904,1807 C903,1750 915,1712 951,1667 C980,1650 1030,1645 1063,1647 Z" fill="url(#case3d)" stroke="#333" stroke-width="1.5"/>
<path d="M1188,1640 L1277,1578 C1300,1680 1345,1760 1349,1883 C1352,1960 1300,2030 1258,2032 L1262,1960 C1268,1860 1235,1740 1188,1640 Z" fill="#cdc8d4" stroke="#333" stroke-width="1.5"/>
<path d="M1300,1830 C1330,1850 1338,1900 1325,1940" fill="none" stroke="#fff" stroke-width="10" opacity="0.5"/>
<g stroke="#333" stroke-width="1.3" fill="none">
<line x1="917" y1="1707" x2="1192" y2="1683"/>
<line x1="1027" y1="1983" x2="1260" y2="1953"/>
<line x1="1090" y1="1690" x2="1140" y2="1830"/>
</g>
<polygon points="1063,1647 1188,1640 1196,1687 1090,1690" fill="#d8d6dc" stroke="#333" stroke-width="1.2"/>
<polygon points="1063,1647 1167,1590 1277,1578 1188,1640" fill="#8d5656" stroke="#222" stroke-width="2"/>
<polygon points="1090,1638 1167,1598 1252,1587 1180,1632" fill="#a86a6a"/>
<ellipse cx="1046" cy="1837" rx="100" ry="130" fill="url(#cyl3d)" stroke="#333" stroke-width="1.5"/>
<ellipse cx="1192" cy="1813" rx="34" ry="47" fill="#dad8df" stroke="#333" stroke-width="1.2"/>
<ellipse cx="1194" cy="1815" rx="14" ry="22" fill="#c8c6ce" stroke="#333" stroke-width="1.2"/>
<ellipse cx="1192" cy="1813" rx="26" ry="38" fill="none" stroke="#222" stroke-width="4" stroke-dasharray="0 25" stroke-linecap="round"/>
<ellipse cx="985" cy="1870" rx="80" ry="104" fill="#b8b8bc" stroke="#222" stroke-width="2"/>
<ellipse cx="983" cy="1872" rx="70" ry="94" fill="url(#inner3d)" stroke="#222" stroke-width="1.5"/>
<g stroke="#3a1515" stroke-width="1.2">
<polygon points="975,1880 1040,1905 1000,1945" fill="#5a2626"/>
<polygon points="950,1870 985,1875 950,1930" fill="#8a3e3e"/>
<line x1="930" y1="1800" x2="1030" y2="1930" stroke-width="2"/>
<line x1="950" y1="1870" x2="1045" y2="1878" stroke-width="2"/>
<line x1="985" y1="1790" x2="975" y2="1960" stroke-width="2"/>
<line x1="1030" y1="1810" x2="945" y2="1940" stroke-width="1.5"/>
</g>
<ellipse cx="985" cy="1870" rx="76" ry="100" fill="none" stroke="#222" stroke-width="3" stroke-dasharray="0 22" stroke-linecap="round"/>
<line x1="898" y1="1782" x2="913" y2="1776" stroke="#333" stroke-width="4"/>
<text transform="translate(1031,1687) rotate(33.6)" font-size="30" font-weight="bold" fill="#fff" stroke="#999" stroke-width="0.6" textLength="162" lengthAdjust="spacingAndGlyphs">ukrvent.ua</text>

<!-- FOOTER -->
<g font-size="25" fill="#111">
<text x="97.5" y="2187" textLength="265" lengthAdjust="spacingAndGlyphs">УКРВЕНТСИСТЕМИ</text>
<text x="97.5" y="2218" textLength="196" lengthAdjust="spacingAndGlyphs">сайт:ukrvent.ua</text>
<text x="97.5" y="2250" textLength="328" lengthAdjust="spacingAndGlyphs">E-mail: zavod@ukrvent.ua</text>
<text x="1575" y="2187" text-anchor="end" textLength="199" lengthAdjust="spacingAndGlyphs">Відділ продажу</text>
<text x="1575" y="2218" text-anchor="end" textLength="399" lengthAdjust="spacingAndGlyphs">+38 (097) 699-14-81 - Київстар;</text>
<text x="1575" y="2250" text-anchor="end" textLength="471" lengthAdjust="spacingAndGlyphs">+38 (099) 199-69-06 - Vodofon (Viber)</text>
</g>
</svg>
</body></html>
